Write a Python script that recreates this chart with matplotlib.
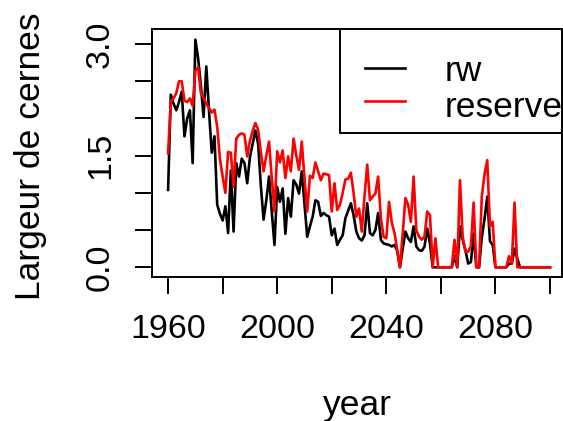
import numpy as np
import matplotlib
matplotlib.use("Agg")
import matplotlib.pyplot as plt
from matplotlib.patches import Rectangle

plt.rcParams['font.family'] = ['Liberation Sans', 'DejaVu Sans']

# ---- data ----
years = np.arange(1960, 2101)

rw = [
    1.04, 2.32, 2.20, 2.11, 2.22, 2.36, 1.76, 2.00, 2.11, 1.40,
    3.06, 2.81, 2.45, 2.02, 2.70, 2.10, 1.54, 1.76, 0.84, 0.72,
    0.63, 0.82, 0.46, 1.30, 0.48, 1.40, 1.22, 1.46, 1.40, 1.13,
    1.48, 1.66, 1.84, 1.66, 1.10, 0.64, 0.90, 1.22, 0.75, 0.30,
    1.08, 0.88, 1.06, 0.45, 0.93, 0.68, 1.17, 1.11, 0.99, 1.29,
    0.85, 0.41, 0.55, 0.68, 0.90, 0.88, 0.69, 0.73, 0.70, 0.68,
    0.43, 0.52, 0.30, 0.37, 0.43, 0.66, 0.76, 0.86, 0.70, 0.48,
    0.39, 0.36, 0.43, 0.86, 0.46, 0.43, 0.50, 0.73, 0.37, 0.32,
    0.31, 0.30, 0.28, 0.30, 0.22, 0.00, 0.25, 0.48, 0.39, 0.34,
    0.55, 0.28, 0.23, 0.22, 0.28, 0.52, 0.32, 0.00, 0.00, 0.00,
    0.00, 0.00, 0.00, 0.00, 0.00, 0.15, 0.00, 0.55, 0.37, 0.23,
    0.05, 0.07, 0.45, 0.00, 0.00, 0.40, 0.65, 0.95, 0.35, 0.30,
    0.00, 0.00, 0.00, 0.00, 0.00, 0.05, 0.05, 0.25, 0.12, 0.00,
    0.00, 0.00, 0.00, 0.00, 0.00, 0.00, 0.00, 0.00, 0.00, 0.00, 0.00,
]

reserve = [
    1.53, 2.23, 2.27, 2.34, 2.50, 2.50, 2.24, 2.22, 2.27, 2.17,
    2.64, 2.69, 2.34, 2.28, 2.20, 2.14, 2.08, 2.12, 1.89, 1.46,
    1.22, 1.00, 1.55, 1.54, 1.08, 1.73, 1.78, 1.80, 1.78, 1.49,
    1.70, 1.83, 1.94, 1.85, 1.55, 1.29, 1.50, 1.69, 1.20, 0.75,
    1.56, 1.41, 1.57, 1.20, 1.49, 1.29, 1.73, 1.50, 1.31, 1.69,
    1.20, 0.75, 1.23, 1.20, 1.41, 1.29, 1.17, 1.26, 1.25, 1.24,
    0.75, 1.13, 0.77, 0.84, 1.00, 1.18, 1.19, 1.27, 1.00, 0.68,
    0.79, 0.48, 0.95, 1.38, 0.90, 0.95, 0.99, 1.22, 0.66, 0.41,
    0.39, 0.88, 0.60, 0.46, 0.23, 0.00, 0.45, 0.93, 0.84, 0.61,
    1.22, 0.50, 0.41, 0.37, 0.41, 0.75, 0.70, 0.00, 0.39, 0.00,
    0.00, 0.00, 0.00, 0.00, 0.00, 0.37, 0.00, 1.17, 0.41, 0.21,
    0.21, 0.28, 0.87, 0.00, 0.00, 0.95, 1.25, 1.44, 0.55, 0.61,
    0.00, 0.00, 0.00, 0.00, 0.00, 0.15, 0.05, 0.87, 0.00, 0.00,
    0.00, 0.00, 0.00, 0.00, 0.00, 0.00, 0.00, 0.00, 0.00, 0.00, 0.00,
]

series = [('rw', rw, 'black'), ('reserve', reserve, 'red')]

xticks = [1960, 1980, 2000, 2020, 2040, 2060, 2080, 2100]
xticklabels = ['1960', '', '2000', '', '2040', '', '2080', '']
yticks = [0.0, 0.5, 1.0, 1.5, 2.0, 2.5, 3.0]
yticklabels = ['0.0', '', '', '1.5', '', '', '3.0']

FS = 24.5   # tick labels
FSL = 25.5  # axis labels / legend
LW = 1.9

fig = plt.figure(figsize=(5.63, 4.21), dpi=100)
ax = fig.add_axes([152 / 563, 1 - 276.5 / 421, 410 / 563, 247.5 / 421])

for name, vals, col in series:
    ax.plot(years, vals, color=col, lw=LW)

ax.set_xlim(1954.1, 2104.4)
ax.set_ylim(-0.124, 3.203)

ax.set_xticks(xticks)
ax.set_xticklabels(xticklabels, fontsize=FS)
ax.set_yticks(yticks)
ax.set_yticklabels(yticklabels, fontsize=FS, rotation=90, va='center')

ax.tick_params(axis='both', direction='out', length=12, width=1.4, color='black')
ax.tick_params(axis='x', pad=15)
ax.tick_params(axis='y', pad=14)
for sp in ax.spines.values():
    sp.set_linewidth(1.4)

ax.set_xlabel('year', fontsize=FSL)
ax.xaxis.set_label_coords(0.5, -0.455)
ax.set_ylabel('Largeur de cernes', fontsize=FSL)
ax.yaxis.set_label_coords(-0.255, 0.487)

# ---- legend, R style (top right, box flush with the plot frame) ----
box_left = 0.4585
box_bottom = 0.580
ax.add_patch(Rectangle((box_left, box_bottom), 1 - box_left, 1 - box_bottom,
                       transform=ax.transAxes, facecolor='white',
                       edgecolor='black', lw=1.4, zorder=5, clip_on=False))
line_y = [0.842, 0.709]
text_y = [0.788, 0.646]
for (name, vals, col), ly, ty in zip(series, line_y, text_y):
    ax.plot([0.5195, 0.617], [ly, ly], color=col, lw=LW,
            transform=ax.transAxes, zorder=6, clip_on=False)
    ax.text(0.7146, ty, name, fontsize=FSL, va='baseline', ha='left',
            transform=ax.transAxes, zorder=6)

fig.savefig('out.png', dpi=100)
